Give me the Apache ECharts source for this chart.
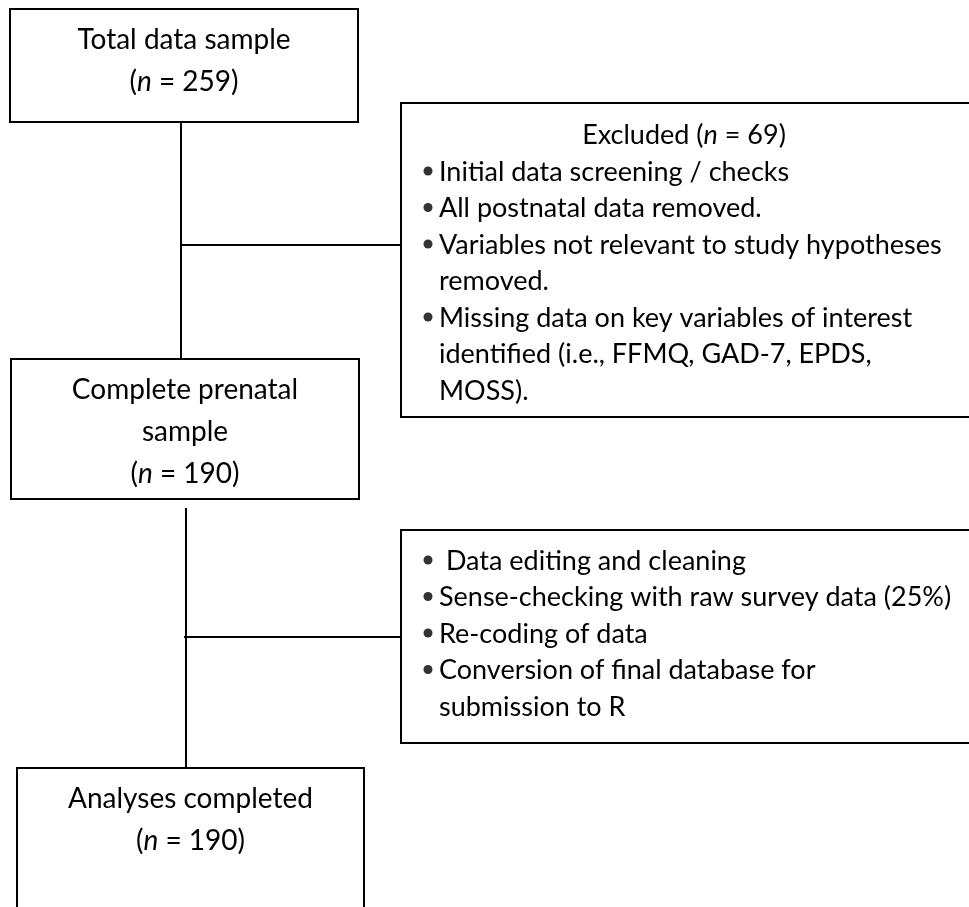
<!DOCTYPE html>
<html>
<head>
<meta charset="utf-8">
<title>Data processing flow</title>
<script src="https://cdn.jsdelivr.net/npm/echarts@6/dist/echarts.min.js"></script>
<style>
  html, body { margin: 0; padding: 0; background: #fff; }
  #flow_chart { width: 969px; height: 907px; }
</style>
</head>
<body>
<div id="flow_chart"></div>
<script>
// box texts and counts
var stageNames = ['Total data sample', 'Complete prenatal\nsample', 'Analyses completed'];
var stageCounts = [259, 190, 190];
var excludedCount = 69;
var excludedReasons = [
    ['Initial data screening / checks'],
    ['All postnatal data removed.'],
    ['Variables not relevant to study hypotheses', 'removed.'],
    ['Missing data on key variables of interest', 'identified (i.e., FFMQ, GAD-7, EPDS,', 'MOSS).']
];
var processingSteps = [
    [' Data editing and cleaning'],
    ['Sense-checking with raw survey data (25%)'],
    ['Re-coding of data'],
    ['Conversion of final database for', 'submission to R']
];

// layout in page units (the axes span the whole page)
var stageBoxes = [[10, 9, 358, 122], [11, 359, 359, 499], [17, 768, 364, 925]];
var sideBoxes = [[401, 103, 975, 417], [401, 530, 975, 743]];
var connectors = [
    [[181, 122], [181, 359]],
    [[181, 245], [401, 245]],
    [[186, 508], [186, 768]],
    [[184, 637], [401, 637]]
];

var FONT = 'Lato';
var STAGE_SIZE = 28;
var LIST_SIZE = 27;
var BASE_SHIFT = 8;   // baseline -> middle of the text

var labelRows = [];
var bulletPoints = [];

// stage boxes: name lines + (n = x)
for (var i = 0; i < stageBoxes.length; i++) {
    var b = stageBoxes[i];
    var cx = (b[0] + b[2]) / 2;
    var lines = stageNames[i].split('\n');
    lines.push('({i|n} = ' + stageCounts[i] + ')');
    for (var k = 0; k < lines.length; k++) {
        labelRows.push({ x: cx, y: b[1] + 38.5 + k * 42 - BASE_SHIFT, text: lines[k], align: 'center', size: STAGE_SIZE });
    }
}

function addBulletList (items, firstBaseline) {
    var y = firstBaseline;
    for (var i = 0; i < items.length; i++) {
        bulletPoints.push([428, y - 9]);
        for (var k = 0; k < items[i].length; k++) {
            labelRows.push({ x: 439, y: y - BASE_SHIFT, text: items[i][k], align: 'left', size: LIST_SIZE });
            y += 36.5;
        }
    }
}

var ex = sideBoxes[0];
labelRows.push({ x: 684, y: ex[1] + 40 - BASE_SHIFT, text: 'Excluded ({i|n} = ' + excludedCount + ')', align: 'center', size: LIST_SIZE });
addBulletList(excludedReasons, 180);
addBulletList(processingSteps, sideBoxes[1][1] + 39);

function renderBox (params, api) {
    var p0 = api.coord([api.value(0), api.value(1)]);
    var p1 = api.coord([api.value(2), api.value(3)]);
    return {
        type: 'rect',
        shape: { x: p0[0], y: p0[1], width: p1[0] - p0[0], height: p1[1] - p0[1] },
        style: { fill: '#fff', stroke: '#000', lineWidth: 2 }
    };
}

function renderLabel (params, api) {
    var row = labelRows[params.dataIndex];
    var p = api.coord([api.value(0), api.value(1)]);
    return {
        type: 'text',
        style: {
            x: p[0],
            y: p[1],
            text: row.text,
            fill: '#000',
            fontFamily: FONT,
            fontSize: row.size,
            align: row.align,
            verticalAlign: 'middle',
            rich: {
                i: { fontStyle: 'italic', fontFamily: FONT, fontSize: row.size, fill: '#000' }
            }
        }
    };
}

var flowChart = echarts.init(document.getElementById('flow_chart'));
var option = {
    animation: false,
    backgroundColor: '#fff',
    grid: { left: 0, right: 0, top: 0, bottom: 0 },
    xAxis: { type: 'value', min: 0, max: 969, show: false },
    yAxis: { type: 'value', min: 0, max: 907, inverse: true, show: false },
    series: [
        {
            type: 'lines',
            coordinateSystem: 'cartesian2d',
            silent: true,
            z: 1,
            lineStyle: { color: '#000', width: 2, opacity: 1 },
            data: connectors.map(function (c) { return { coords: c }; })
        },
        {
            type: 'custom',
            silent: true,
            clip: false,
            z: 2,
            renderItem: renderBox,
            data: stageBoxes.concat(sideBoxes)
        },
        {
            type: 'scatter',
            silent: true,
            z: 3,
            symbol: 'circle',
            symbolSize: 9,
            itemStyle: { color: '#000' },
            data: bulletPoints
        },
        {
            type: 'custom',
            silent: true,
            clip: false,
            z: 4,
            renderItem: renderLabel,
            data: labelRows.map(function (r) { return [r.x, r.y]; })
        }
    ]
};
flowChart.setOption(option);
</script>
</body>
</html>
